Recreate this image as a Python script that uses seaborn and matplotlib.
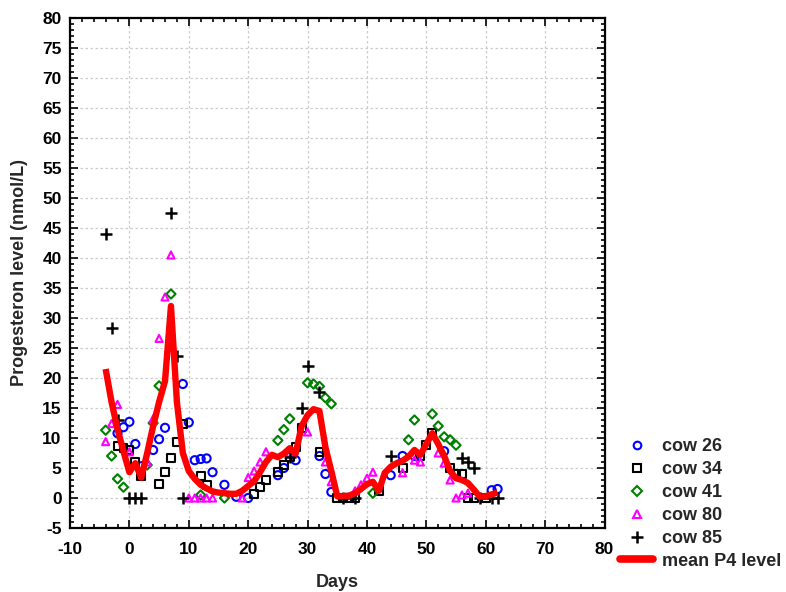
import numpy as np
import pandas as pd
import matplotlib
matplotlib.use("Agg")
import matplotlib.pyplot as plt
import seaborn as sns
from matplotlib.ticker import MultipleLocator
from matplotlib.lines import Line2D

# ---------------- data ----------------
cow26_day = [-2, -1, 0, 1, 2, 4, 5, 6, 9, 10, 11, 12, 13, 14, 16, 18, 20, 25, 26, 28, 32, 33, 34, 44, 46, 48, 53, 61, 62]
cow26_p4 = [10.8, 11.8, 12.7, 9.0, 5.3, 8.0, 9.8, 11.7, 19.0, 12.6, 6.3, 6.5, 6.6, 4.3, 2.2, 0.2, 0.0, 3.8, 5.0, 6.3, 7.0, 4.0, 1.0, 3.8, 7.0, 7.0, 7.8, 1.3, 1.5]

cow34_day = [-2, -1, 0, 1, 2, 5, 6, 7, 8, 9, 12, 13, 21, 22, 23, 25, 26, 27, 28, 29, 32, 35, 36, 37, 38, 42, 46, 49, 50, 51, 54, 55, 56, 57, 58, 60]
cow34_p4 = [8.6, 8.3, 8.0, 6.0, 3.7, 2.3, 4.3, 6.7, 9.4, 12.3, 3.6, 2.2, 0.7, 1.9, 3.0, 4.4, 5.5, 6.9, 8.5, 11.6, 7.7, 0, 0, 0, 0, 1.2, 5.0, 7.0, 8.8, 10.8, 5.0, 4.0, 4.0, 0, 0, 0]

cow41_day = [-4, -3, -2, -1, 3, 4, 5, 7, 12, 16, 25, 26, 27, 30, 31, 32, 33, 34, 41, 47, 48, 51, 52, 53, 54, 55]
cow41_p4 = [11.3, 7.0, 3.2, 1.8, 5.5, 12.5, 18.7, 34.0, 0.5, 0.0, 9.6, 11.4, 13.2, 19.2, 19.0, 18.6, 16.7, 15.7, 0.8, 9.7, 13.0, 14.0, 12.0, 10.2, 9.7, 8.8]

cow80_day = [-4, -3, -2, 0, 3, 4, 5, 6, 7, 10, 11, 12, 13, 14, 19, 20, 21, 22, 23, 27, 30, 33, 34, 38, 39, 40, 41, 46, 48, 49, 52, 53, 54, 55, 56, 57]
cow80_p4 = [9.4, 12.4, 15.6, 7.7, 6.0, 13.2, 26.6, 33.5, 40.5, 0, 0, 0, 0, 0, 0, 3.4, 4.5, 6.0, 7.7, 7.5, 11.0, 6.0, 2.7, 1.2, 2.2, 3.3, 4.3, 4.2, 6.3, 6.0, 7.5, 5.8, 3.0, 0, 0.5, 0.8]

cow85_day = [-4, -3, -2, 0, 1, 2, 7, 8, 9, 27, 29, 30, 32, 36, 38, 44, 56, 57, 58, 59, 61, 62]
cow85_p4 = [44, 28.3, 13, 0, 0, 0, 47.5, 23.6, 0, 6.9, 15, 22, 17.6, 0, 0, 7, 6.6, 6, 5, 0, 0, 0]

mean_day = list(range(-4, 63))
mean_p4 = [21.5, 16.0, 11.5, 7.8, 4.3, 5.8, 3.4, 7.5, 12.0, 16.0, 19.5, 32.0, 16.0, 7.5,
           4.5, 3.2, 2.2, 1.6, 1.1, 0.9, 0.8, 0.7, 0.7, 1.2, 2.0, 2.8, 4.3, 6.0, 7.2,
           6.8, 7.4, 8.3, 7.4, 12.0, 13.8, 14.8, 14.5, 8.5, 4.5, 0.3, 0.3, 0.4, 0.8,
           1.5, 2.3, 2.7, 1.2, 4.2, 5.2, 5.8, 6.2, 6.9, 8.0, 7.2, 9.0, 10.8, 9.0, 7.0,
           4.5, 3.3, 3.0, 2.5, 1.4, 0.2, 0.3, 0.6, 0.9]

x_ticks = list(range(-10, 81, 10))
y_ticks = list(range(-5, 81, 5))

# ---------------- style ----------------
sns.set_style("ticks")
plt.rcParams["font.family"] = ["Liberation Sans", "DejaVu Sans"]
plt.rcParams["font.weight"] = "bold"
plt.rcParams["axes.unicode_minus"] = False

fig = plt.figure(figsize=(7.86, 5.92), dpi=100)
ax = fig.add_axes([70 / 786, 1 - 528 / 592, 534.5 / 786, 510 / 592])

series = [
    ("cow 26", cow26_day, cow26_p4, "o", "#0000ff", 34),
    ("cow 34", cow34_day, cow34_p4, "s", "#000000", 32),
    ("cow 41", cow41_day, cow41_p4, "D", "#008000", 22),
    ("cow 80", cow80_day, cow80_p4, "^", "#ff00ff", 26),
    ("cow 85", cow85_day, cow85_p4, "+", "#000000", 70),
]

handles = []
for name, d, v, m, c, s in series:
    df = pd.DataFrame({"day": d, "p4": v})
    if m == "+":
        sns.scatterplot(data=df, x="day", y="p4", marker=m, s=s, color=c,
                        linewidth=1.8, ax=ax, zorder=3, legend=False)
        handles.append(Line2D([], [], linestyle="none", marker=m, color=c,
                              markersize=8, markeredgewidth=1.8, label=name))
    else:
        sns.scatterplot(data=df, x="day", y="p4", marker=m, s=s, facecolor="none",
                        edgecolor=c, linewidth=1.5, ax=ax, zorder=3, legend=False)
        handles.append(Line2D([], [], linestyle="none", marker=m, color=c,
                              markerfacecolor="none", markeredgecolor=c,
                              markersize=5.5, markeredgewidth=1.5, label=name))

mdf = pd.DataFrame({"day": mean_day, "p4": mean_p4})
sns.lineplot(data=mdf, x="day", y="p4", color="#ff0000", linewidth=4.6, ax=ax,
             zorder=4, legend=False, solid_joinstyle="round", solid_capstyle="butt")
handles.append(Line2D([], [], color="#ff0000", linewidth=5.5, label="mean P4 level",
                      solid_capstyle="round"))

ax.set_xlim(-10, 80)
ax.set_ylim(-5, 80)
ax.set_xticks(x_ticks)
ax.set_yticks(y_ticks)
ax.xaxis.set_minor_locator(MultipleLocator(2))
ax.yaxis.set_minor_locator(MultipleLocator(1))
ax.tick_params(which="both", direction="in", top=True, right=True, colors="black",
               width=1.2)
ax.tick_params(which="major", length=6, labelsize=12.5)
ax.tick_params(axis="x", which="major", pad=10)
ax.tick_params(axis="y", which="major", pad=6)
ax.tick_params(which="minor", length=3)
for lab in ax.get_xticklabels() + ax.get_yticklabels():
    lab.set_fontweight("bold")
ax.grid(True, which="major", color="#cccccc", linestyle=(0, (2, 2)), linewidth=0.9)
ax.set_axisbelow(True)
for sp in ax.spines.values():
    sp.set_visible(True)
    sp.set_color("black")
    sp.set_linewidth(1.6)

ax.set_xlabel("Days", fontsize=13, fontweight="bold")
ax.set_ylabel("Progesteron level (nmol/L)", fontsize=13, fontweight="bold")
ax.xaxis.set_label_coords(0.5, -0.09)
ax.yaxis.set_label_coords(-0.078, 0.5)

fig.legend(handles=handles, loc="upper left", bbox_to_anchor=(620 / 786, 1 - 438 / 592),
           frameon=False, prop={"weight": "bold", "size": 13},
           handlelength=1.85, handletextpad=0.5, labelspacing=0.33, borderpad=0,
           borderaxespad=0)

fig.savefig("out.png", dpi=100)
